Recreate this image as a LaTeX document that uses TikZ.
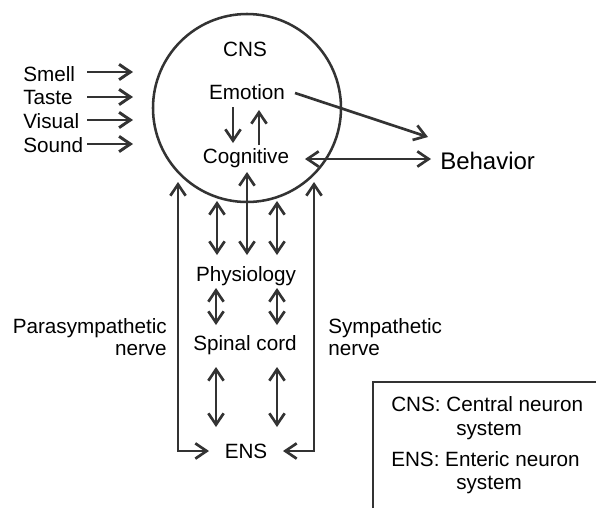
\documentclass[tikz,border=0pt]{standalone}
\usepackage{fontspec}
\setmainfont{Liberation Sans}
\usetikzlibrary{arrows.meta}
\tikzset{
  lbl/.style={inner sep=0pt, font=\fontsize{15.5}{18}\selectfont},
  conn/.style={color=black!80, line width=2pt, -{Straight Barb[length=8.5pt,width=11.5pt]}},
  dbl/.style={color=black!80, line width=2pt, {Straight Barb[length=8.5pt,width=11.5pt]}-{Straight Barb[length=8.5pt,width=11.5pt]}},
}
\begin{document}
\begin{tikzpicture}[x=0.75pt,y=0.75pt,yscale=-1,xscale=1]
\useasboundingbox (0,0) rectangle (596,508);
%Shape: Circle
\node [circle, draw=black!80, line width=1.9pt, minimum size=141pt, inner sep=0pt] (cns) at (247,108) {};

% Text Nodes
\node [lbl, anchor=base] (cnslbl) at (245,56) {CNS};
\node [lbl, anchor=base] (emo) at (247,99) {Emotion};
\node [lbl, anchor=base] (cog) at (246,163) {Cognitive};
\node [lbl, anchor=base west, font=\fontsize{18}{21}\selectfont] (beh) at (440,169) {Behavior};
\node [lbl, anchor=base] (phys) at (246,281.5) {Physiology};
\node [lbl, anchor=base] (spin) at (245,350) {Spinal cord};
\node [lbl, anchor=base] (ens) at (246,458) {ENS};
\node [lbl, anchor=base east] (para) at (167,333) {Parasympathetic};
\node [lbl, anchor=base east] (paran) at (167,355) {nerve};
\node [lbl, anchor=base west] (symp) at (328,333) {Sympathetic};
\node [lbl, anchor=base west] (sympn) at (328,355) {nerve};

% Senses
\foreach \s/\t/\y/\b in {smell/Smell/72/81,taste/Taste/97/104,visual/Visual/120/128,sound/Sound/144/152}{
  \node [lbl, anchor=base west] (\s) at (23,\b) {\t};
  \coordinate (\s-a) at (87,\y);
  \coordinate (\s-b) at (133,\y);
  \draw [conn, line width=2.2pt] (\s-a) -- (\s-b);
}

% Inside CNS
\coordinate (emo-d) at (233,107);
\coordinate (cog-u) at (233,143);
\draw [conn] (emo-d) -- (cog-u);
\coordinate (cog-a) at (259,145);
\coordinate (emo-a) at (259,110);
\draw [conn] (cog-a) -- (emo-a);
\coordinate (emo-r) at (295,93);
\coordinate (beh-t) at (428,137);
\draw [conn] (emo-r) -- (beh-t);
\coordinate (cog-r) at (305,159);
\coordinate (beh-l) at (431,159);
\draw [dbl] (cog-r) -- (beh-l);

% CNS to Physiology
\foreach \x/\y in {217/201,247/172,277/201}{
  \draw [dbl] (\x,\y) coordinate (top\x) -- (\x,255) coordinate (phys\x);
}
% Physiology to Spinal cord to ENS
\foreach \x in {216,277}{
  \draw [dbl] (\x,288) coordinate (pt\x) -- (\x,325) coordinate (sb\x);
  \draw [dbl] (\x,367) coordinate (st\x) -- (\x,427) coordinate (eb\x);
}

% Nerves
\coordinate (paratop) at (178,182);
\coordinate (ensw) at (209,451);
\draw [dbl] (paratop) |- (ensw);
\coordinate (symptop) at (314,182);
\coordinate (ense) at (283,451);
\draw [dbl] (symptop) |- (ense);

% Legend
\draw [color=black!80, line width=1.6pt] (373,508) -- (373,382) -- (596,382);
\node [lbl, anchor=base west] (leg1) at (391,411.5) {CNS: Central neuron};
\node [lbl, anchor=base west] (leg1b) at (456,435) {system};
\node [lbl, anchor=base west] (leg2) at (391,466.5) {ENS: Enteric neuron};
\node [lbl, anchor=base west] (leg2b) at (456,489) {system};
\end{tikzpicture}
\end{document}
